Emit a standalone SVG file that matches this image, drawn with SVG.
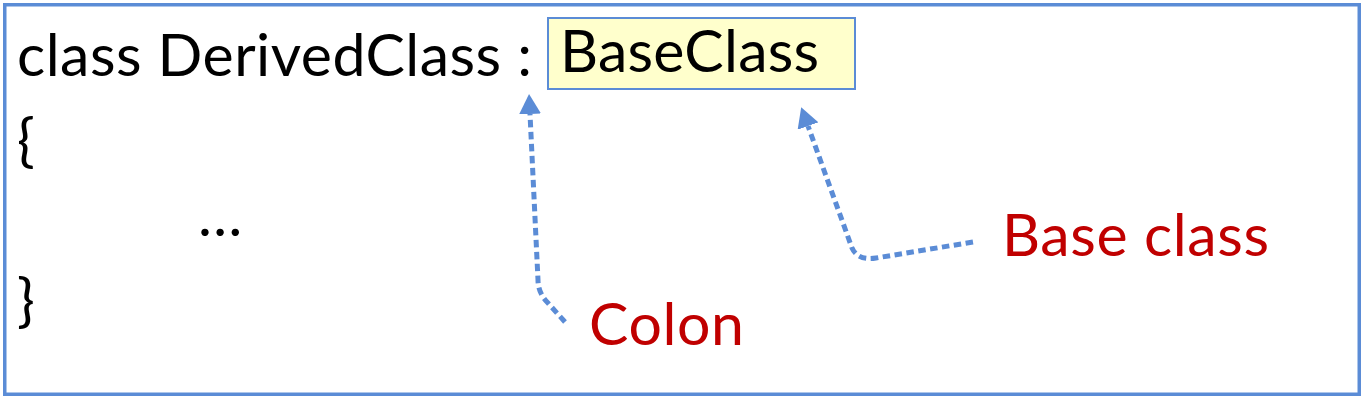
<svg xmlns="http://www.w3.org/2000/svg" width="1364" height="401" viewBox="0 0 1364 401">
  <style>
    .code { font-family: Lato, "Liberation Sans", sans-serif; font-size: 59px; fill: #000000; }
    .label { font-family: Lato, "Liberation Sans", sans-serif; font-size: 59px; fill: #C00000; }
    .conn { fill: none; stroke: #5B8CD6; stroke-width: 5; stroke-dasharray: 7.5 4.5; stroke-linecap: butt; stroke-linejoin: round; }
  </style>
  <defs>
    <marker id="arrow" viewBox="0 0 20 22" refX="0" refY="11" markerWidth="20" markerHeight="22" markerUnits="userSpaceOnUse" orient="auto">
      <path d="M0,0 L20,11 L0,22 Z" fill="#5B8CD6"/>
    </marker>
  </defs>
  <rect id="frame" x="4.75" y="4.75" width="1354.5" height="389.5" fill="#FFFFFF" stroke="#5B8CD6" stroke-width="3.5"/>
  <g id="code">
    <text class="code" x="17" y="76" textLength="515">class DerivedClass :</text>
    <text class="code" x="17" y="161">{</text>
    <text class="code" x="198" y="236">…</text>
    <text class="code" x="17" y="321">}</text>
  </g>
  <g id="baseclass-box">
    <rect x="548" y="18" width="307" height="71" fill="#FFFFCC" stroke="#5B8CD6" stroke-width="2"/>
    <text class="code" x="560" y="72" textLength="259">BaseClass</text>
  </g>
  <g id="colon-label">
    <text class="label" x="589" y="345" textLength="155">Colon</text>
  </g>
  <g id="baseclass-label">
    <text class="label" x="1002" y="256" textLength="267">Base class</text>
  </g>
  <g id="connectors">
    <path class="conn" d="M565,322 L548,303 Q538,293 538,280 L530,114" marker-end="url(#arrow)"/>
    <path class="conn" d="M973,242 L876,258 Q858,261 852,248 L808,126" marker-end="url(#arrow)"/>
  </g>
</svg>
